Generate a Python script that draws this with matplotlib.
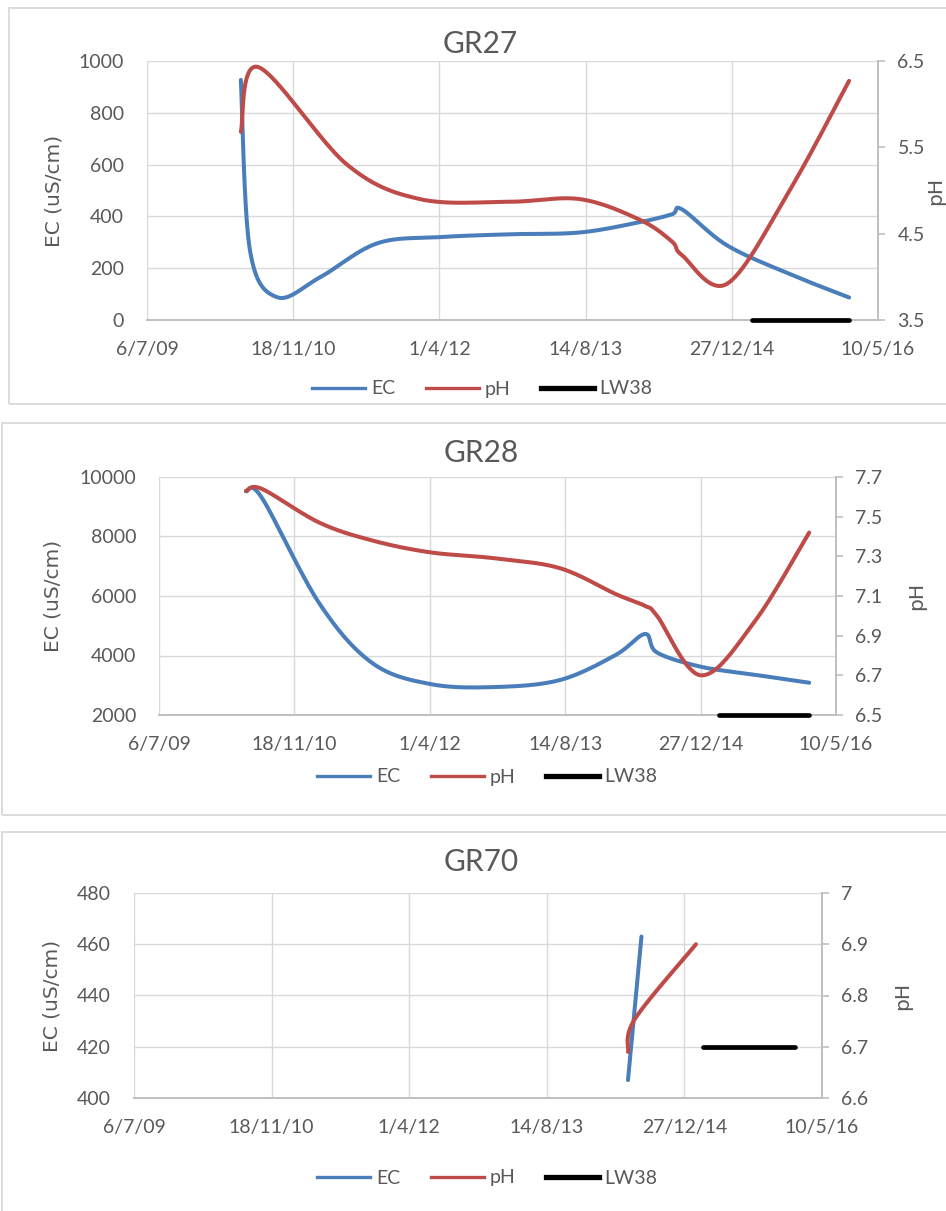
import numpy as np
import pandas as pd
import matplotlib
matplotlib.use("Agg")
import matplotlib.pyplot as plt
import matplotlib.dates as mdates
from matplotlib.patches import Rectangle
from matplotlib.lines import Line2D

plt.rcParams["font.family"] = "Lato"

W, H = 946, 1211

# date axis: 500-day steps
x_start, x_end = "2009-07-06", "2016-05-10"
tick_dates = ["2009-07-06", "2010-11-18", "2012-04-01", "2013-08-14", "2014-12-27", "2016-05-10"]
tick_labels = ["6/7/09", "18/11/10", "1/4/12", "14/8/13", "27/12/14", "10/5/16"]

# GR27
gr27_ec_dates = ["2010-05-23", "2010-06-23", "2010-09-24", "2011-02-18", "2011-09-01", "2012-04-03",
                 "2012-11-28", "2013-07-26", "2014-02-16", "2014-06-05", "2014-07-10", "2014-12-11",
                 "2015-07-14", "2016-02-01"]
gr27_ec = [927, 270, 88, 165, 296, 320, 331, 338, 378, 408, 427, 288, 177, 87]
gr27_ph_dates = ["2010-05-23", "2010-07-21", "2011-05-21", "2012-01-26", "2012-11-28", "2013-07-26",
                 "2014-02-16", "2014-06-05", "2014-07-10", "2014-12-11", "2015-07-14", "2016-02-01"]
gr27_ph = [5.68, 6.43, 5.30, 4.90, 4.87, 4.90, 4.66, 4.41, 4.25, 3.92, 5.01, 6.27]

# GR28
gr28_dates = ["2010-05-23", "2010-07-21", "2011-02-18", "2011-09-01", "2012-04-03", "2012-11-28",
              "2013-07-26", "2014-02-16", "2014-06-05", "2014-07-19", "2014-12-29", "2015-07-14",
              "2016-02-01"]
gr28_ec = [9520, 9300, 5753, 3750, 3040, 2940, 3176, 4016, 4722, 4100, 3620, 3354, 3085]
gr28_ph = [7.63, 7.64, 7.47, 7.38, 7.32, 7.29, 7.24, 7.11, 7.05, 7.00, 6.70, 6.97, 7.42]

# GR70
gr70_ec_dates = ["2014-06-05", "2014-07-24"]
gr70_ec = [407, 463]
gr70_ph_dates = ["2014-06-05", "2014-06-30", "2015-02-07"]
gr70_ph = [6.69, 6.754, 6.90]

# LW38 period, drawn as a flat bar in each chart
lw38_dates = ["2015-03-06", "2016-02-01"]
gr27_lw38 = 0
gr28_lw38 = 2000
gr70_lw38 = 420

BLUE = "#4A7EBB"
RED = "#BE4B48"
TXT = "#595959"
GRID = "#D9D9D9"
AXIS = "#BFBFBF"


def to_num(dates):
    return mdates.date2num(pd.to_datetime(dates).to_numpy())


def smooth(ax, xs, ys, steps=40):
    # bezier through the points, worked out in screen space
    pts = ax.transData.transform(np.column_stack([xs, ys]))
    if len(pts) < 3:
        return np.asarray(xs), np.asarray(ys)
    ext = np.vstack([pts[0], pts, pts[-1]])
    t = np.linspace(0, 1, steps)[:, None]
    out = []
    for i in range(len(pts) - 1):
        p0, p1, p2, p3 = ext[i:i + 4]
        c1 = p1 + (p2 - p0) / 6
        c2 = p2 - (p3 - p1) / 6
        seg = (1 - t) ** 3 * p1 + 3 * (1 - t) ** 2 * t * c1 + 3 * (1 - t) * t ** 2 * c2 + t ** 3 * p2
        out.append(seg if i == 0 else seg[1:])
    curve = ax.transData.inverted().transform(np.vstack(out))
    return curve[:, 0], curve[:, 1]


def px_axes(fig, left, top, right, bottom):
    return fig.add_axes([left / W, 1 - bottom / H, (right - left) / W, (bottom - top) / H])


def panel(fig, frame, box, title, title_pos, ylab_x, ph_x, legend_pos,
          ec_dates, ec, ph_dates, ph, lw38, ec_ticks, ph_ticks, ph_labels):
    fl, ft, fr, fb = frame
    fig.add_artist(Rectangle((fl / W, 1 - fb / H), (fr - fl) / W, (fb - ft) / H,
                             transform=fig.transFigure, fill=False, ec=GRID, lw=1.3))

    ax = px_axes(fig, *box)
    ax2 = ax.twinx()
    ax.set_xlim(to_num([x_start])[0], to_num([x_end])[0])
    ax.set_ylim(ec_ticks[0], ec_ticks[-1])
    ax2.set_ylim(ph_ticks[0], ph_ticks[-1])

    ax.set_xticks(to_num(tick_dates))
    ax.set_xticklabels(tick_labels)
    ax.set_yticks(ec_ticks)
    ax.set_yticklabels([str(v) for v in ec_ticks])
    ax2.set_yticks(ph_ticks)
    ax2.set_yticklabels(ph_labels)

    ax.grid(True, color=GRID, lw=1.0)
    ax.set_axisbelow(True)
    for s in ["left", "top", "right"]:
        ax.spines[s].set_visible(False)
    ax.spines["bottom"].set_color(AXIS)
    ax.spines["bottom"].set_linewidth(1.4)
    for s in ["left", "top", "bottom"]:
        ax2.spines[s].set_visible(False)
    ax2.spines["right"].set_color(AXIS)
    ax2.spines["right"].set_linewidth(1.4)

    ax.tick_params(axis="both", length=0, labelcolor=TXT, labelsize=14)
    ax.tick_params(axis="y", pad=16.5)
    ax.tick_params(axis="x", pad=15)
    ax2.tick_params(axis="y", length=5, width=1.2, color=AXIS, labelcolor=TXT, labelsize=14, pad=9)

    ex, ey = smooth(ax, to_num(ec_dates), ec)
    ax.plot(ex, ey, color=BLUE, lw=2.9, solid_capstyle="round", zorder=3)
    ax.plot(to_num(lw38_dates), [lw38, lw38], color="black", lw=3.4,
            solid_capstyle="round", clip_on=False, zorder=4)
    px, py = smooth(ax2, to_num(ph_dates), ph)
    ax2.plot(px, py, color=RED, lw=2.9, solid_capstyle="round", zorder=3)

    fig.text(title_pos[0] / W, 1 - title_pos[1] / H, title, ha="center", va="baseline",
             fontsize=21.5, color=TXT)
    mid = (box[1] + box[3]) / 2
    fig.text(ylab_x / W, 1 - mid / H, "EC (uS/cm)", rotation=90, ha="center", va="center",
             family="DejaVu Sans", fontsize=14.5, color=TXT)
    fig.text(ph_x / W, 1 - mid / H, "pH", rotation=90, ha="center", va="center",
             family="DejaVu Sans", fontsize=14.5, color=TXT)

    handles = [Line2D([], [], color=BLUE, lw=2.4),
               Line2D([], [], color=RED, lw=2.4),
               Line2D([], [], color="black", lw=3.8)]
    fig.legend(handles, ["EC", "pH", "LW38"], loc="center",
               bbox_to_anchor=(legend_pos[0] / W, 1 - legend_pos[1] / H),
               ncol=3, frameon=False, fontsize=14, handlelength=2.7,
               handletextpad=0.3, columnspacing=1.6, labelcolor=TXT)


fig = plt.figure(figsize=(W / 100, H / 100), dpi=100)

panel(fig, (9, 8, 960, 404), (147, 61, 878, 320), "GR27", (480, 53.3), 54, 936, (482.5, 389),
      gr27_ec_dates, gr27_ec, gr27_ph_dates, gr27_ph, gr27_lw38,
      [0, 200, 400, 600, 800, 1000], [3.5, 4.5, 5.5, 6.5], ["3.5", "4.5", "5.5", "6.5"])

panel(fig, (2, 423, 960, 815), (159, 477, 836, 715), "GR28", (481, 461.7), 53, 917, (487.5, 777),
      gr28_dates, gr28_ec, gr28_dates, gr28_ph, gr28_lw38,
      [2000, 4000, 6000, 8000, 10000], [6.5, 6.7, 6.9, 7.1, 7.3, 7.5, 7.7],
      ["6.5", "6.7", "6.9", "7.1", "7.3", "7.5", "7.7"])

panel(fig, (2, 832, 960, 1240), (134, 893, 822, 1098), "GR70", (481, 871), 52, 903, (487.5, 1178),
      gr70_ec_dates, gr70_ec, gr70_ph_dates, gr70_ph, gr70_lw38,
      [400, 420, 440, 460, 480], [6.6, 6.7, 6.8, 6.9, 7.0], ["6.6", "6.7", "6.8", "6.9", "7"])

fig.savefig("out.png", dpi=100, facecolor="white")
